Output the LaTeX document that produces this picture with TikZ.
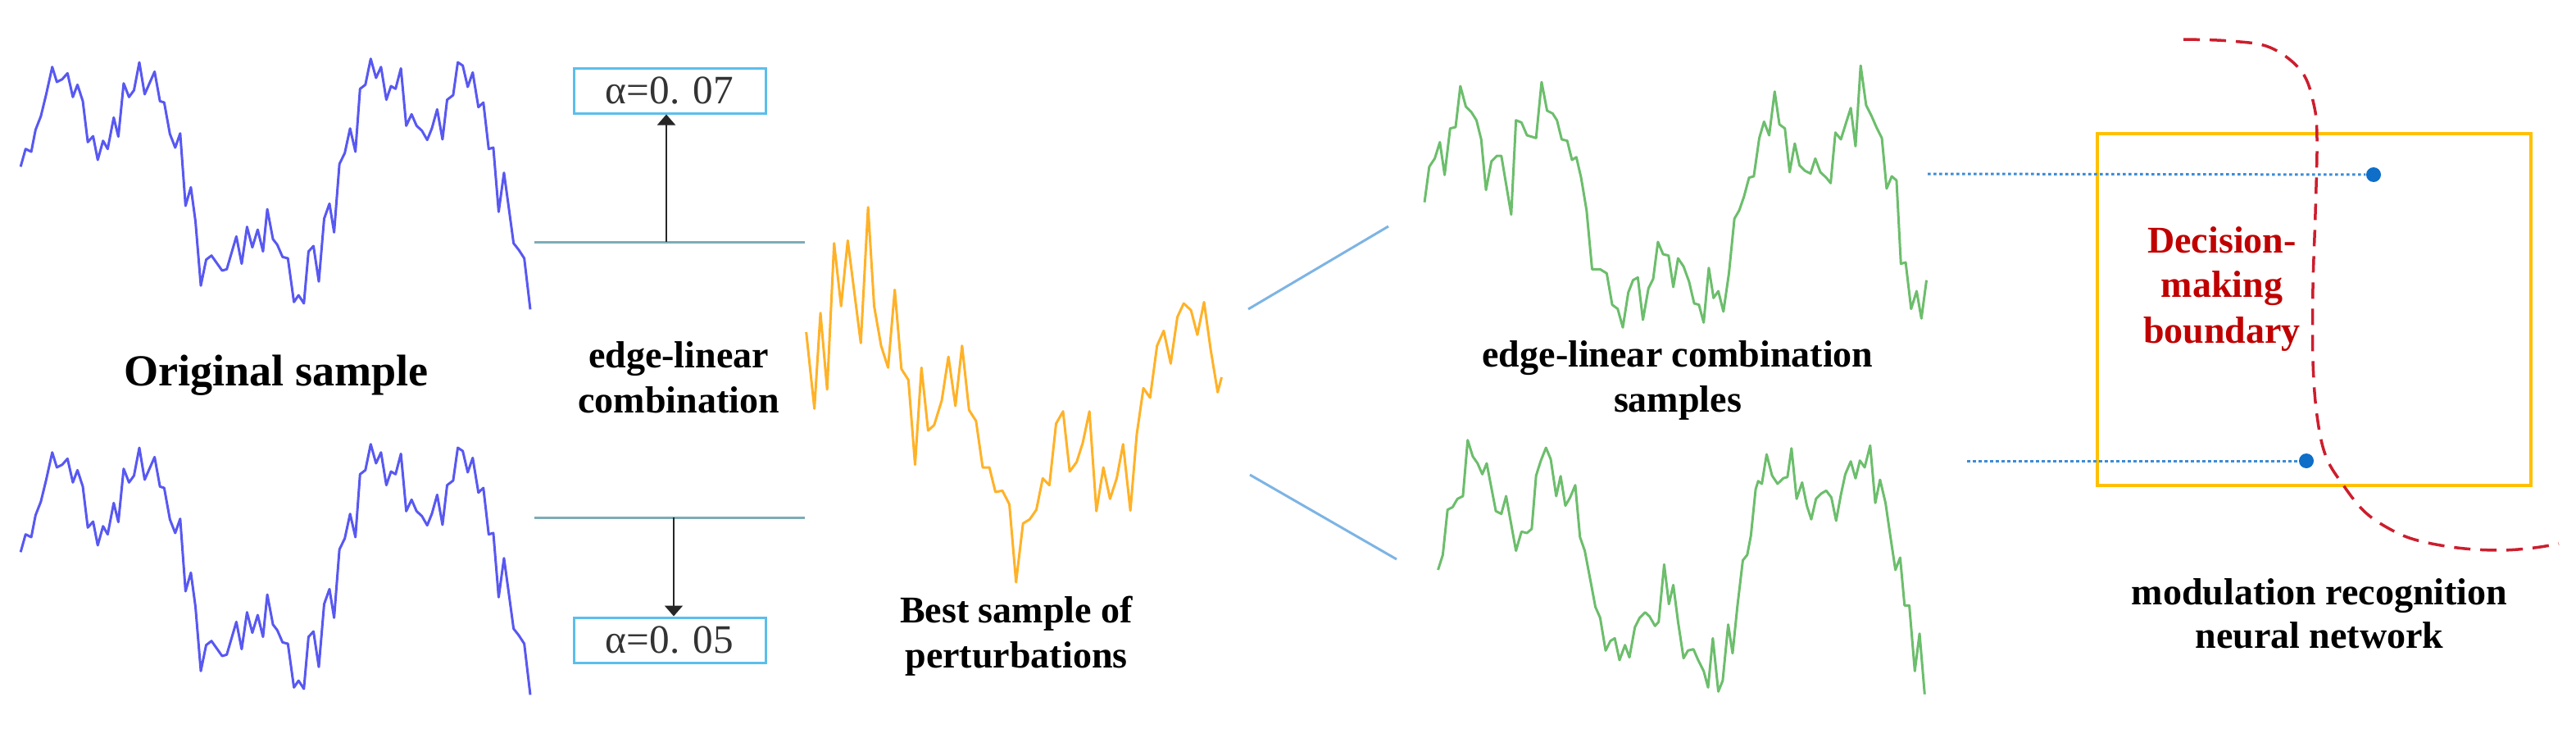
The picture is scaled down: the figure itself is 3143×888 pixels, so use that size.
\documentclass[tikz,border=0pt]{standalone}
\usepackage{fontspec}
\setmainfont{Liberation Serif}
\usetikzlibrary{arrows.meta}
\definecolor{wblue}{RGB}{88,88,242}
\definecolor{worange}{RGB}{255,178,40}
\definecolor{wgreen}{RGB}{108,190,108}
\definecolor{tealline}{RGB}{125,172,182}
\definecolor{boxblue}{RGB}{92,190,235}
\definecolor{lineblue}{RGB}{125,180,228}
\definecolor{dotblue}{RGB}{14,110,200}
\definecolor{dotline}{RGB}{60,140,215}
\definecolor{boxyellow}{RGB}{255,192,0}
\definecolor{dred}{RGB}{204,30,45}
\definecolor{tred}{RGB}{192,0,0}
\newcommand{\BlueWave}{\draw[wave,wblue] plot coordinates {(58,490) (72,425) (88,435) (100,355) (115,305) (130,225) (147,125) (160,180) (175,170) (190,148) (205,235) (218,190) (233,250) (247,400) (262,378) (275,465) (290,395) (303,425) (320,310) (333,380) (348,185) (363,235) (377,210) (392,108) (407,225) (435,142) (450,250) (462,255) (478,370) (493,420) (507,368) (522,633) (537,565) (550,690) (565,925) (580,830) (595,815) (625,870) (638,865) (665,745) (680,845) (695,710) (710,785) (725,720) (740,800) (752,645) (768,755) (780,775) (795,820) (810,825) (827,985) (840,960) (855,990) (868,800) (882,780) (897,910) (912,680) (927,625) (940,730) (955,480) (970,440) (985,350) (1000,435) (1013,205) (1028,190) (1043,95) (1058,165) (1072,125) (1087,245) (1100,195) (1113,205) (1128,130) (1143,340) (1158,298) (1172,340) (1187,358) (1202,392) (1215,350) (1230,280) (1245,390) (1258,245) (1275,228) (1288,108) (1302,120) (1316,198) (1330,145) (1346,272) (1360,255) (1375,425) (1388,420) (1403,655) (1418,512) (1432,645) (1445,770) (1460,795) (1475,825) (1492,1012)};}
\begin{document}
\begin{tikzpicture}[x=0.1mm,y=-0.1mm,
  wave/.style={line width=0.3mm,line join=round},
  lbl/.style={font=\fontsize{13.1pt}{15.7pt}\selectfont\bfseries,anchor=base,inner sep=0pt},
  biglbl/.style={font=\fontsize{15.4pt}{18pt}\selectfont\bfseries,anchor=base,inner sep=0pt},
  alphabox/.style={draw=boxblue,line width=0.3mm,minimum width=23.4mm,minimum height=5.5mm,inner sep=0pt,font=\fontsize{14pt}{16pt}\selectfont,text=black!80},
  tealbar/.style={draw=tealline,line width=0.3mm},
  arr/.style={draw=black!85,line width=0.2mm,-{Triangle[width=2.2mm,length=1.3mm]}},
  conn/.style={draw=lineblue,line width=0.3mm},
  dotl/.style={draw=dotline,line width=0.3mm,dash pattern=on 0.35mm off 0.35mm},
  bdot/.style={circle,fill=dotblue,minimum size=1.8mm,inner sep=0pt}]
\useasboundingbox (0,0) rectangle (3143,888);

% original samples
\begin{scope}[shift={(0,40)},xscale=0.43365,yscale=0.33333]
\BlueWave
\end{scope}
\begin{scope}[shift={(0,510)},xscale=0.43365,yscale=0.33333]
\BlueWave
\end{scope}
\node[biglbl] (orig) at (337,470) {Original sample};

% edge-linear combination
\coordinate (t1l) at (652,295); \coordinate (t1r) at (982,295);
\coordinate (t2l) at (652,631); \coordinate (t2r) at (982,631);
\draw[tealbar] (t1l) -- (t1r);
\draw[tealbar] (t2l) -- (t2r);
\node[alphabox] (a1) at (817,110.5) {α=0. 07};
\node[alphabox] (a2) at (817,780.5) {α=0. 05};
\coordinate (t1m) at (813,295);
\coordinate (t2m) at (822,631);
\draw[arr] (t1m) -- (t1m |- a1.south);
\draw[arr] (t2m) -- (t2m |- a2.north);
\node[lbl] (elc1) at (828,448) {edge-linear};
\node[lbl] (elc2) at (828,503) {combination};

% best sample
\begin{scope}[shift={(940,240)},xscale=0.36996,yscale=0.33333]
\draw[wave,worange] plot coordinates {(118,495) (145,775) (165,425) (187,705) (210,170) (233,400) (255,160) (298,535) (322,38) (342,400) (365,545) (388,625) (410,340) (432,630) (455,670) (477,980) (498,625) (520,855) (540,835) (565,745) (587,585) (610,765) (632,545) (655,780) (678,820) (700,990) (722,990) (742,1080) (765,1075) (788,1125) (810,1410) (833,1195) (855,1180) (877,1145) (898,1030) (920,1055) (942,830) (965,785) (987,1005) (1010,970) (1030,900) (1052,785) (1075,1150) (1098,990) (1120,1105) (1142,1030) (1163,905) (1187,1148) (1208,870) (1230,700) (1252,735) (1275,545) (1297,490) (1320,610) (1342,440) (1363,390) (1387,415) (1408,505) (1430,385) (1452,560) (1475,715) (1488,660)};
\end{scope}
\node[lbl] (best1) at (1240,759) {Best sample of};
\node[lbl] (best2) at (1240,814) {perturbations};

% connectors to combination samples
\coordinate (c1a) at (1523,377); \coordinate (c1b) at (1694,276);
\coordinate (c2a) at (1525,579); \coordinate (c2b) at (1704,682);
\draw[conn] (c1a) -- (c1b);
\draw[conn] (c2a) -- (c2b);

% combination samples
\begin{scope}[shift={(1680,40)},xscale=0.44643,yscale=0.33333]
\draw[wave,wgreen] plot coordinates {(130,620) (143,490) (158,460) (172,400) (185,520) (200,350) (215,345) (228,195) (243,270) (258,290) (272,320) (285,390) (298,575) (313,470) (328,450) (340,450) (367,665) (380,320) (395,328) (410,375) (435,385) (450,180) (465,285) (480,295) (492,320) (505,390) (520,395) (533,465) (545,455) (558,530) (573,650) (588,865) (610,865) (628,880) (643,995) (658,1010) (672,1078) (687,950) (700,905) (713,895) (727,1050) (742,935) (755,900) (768,765) (782,810) (797,815) (810,930) (823,825) (838,855) (853,910) (867,990) (880,995) (893,1060) (907,860) (920,970) (933,945) (947,1020) (962,880) (977,680) (990,650) (1003,600) (1017,530) (1030,525) (1045,385) (1058,325) (1072,375) (1087,215) (1100,335) (1115,350) (1128,510) (1142,405) (1155,485) (1170,505) (1185,515) (1198,460) (1212,510) (1228,530) (1240,550) (1253,365) (1268,390) (1282,330) (1295,275) (1308,415) (1322,120) (1337,265) (1352,305) (1365,345) (1380,385) (1393,570) (1407,525) (1420,540) (1432,845) (1445,840) (1460,1010) (1475,945) (1488,1045) (1502,905)};
\end{scope}
\begin{scope}[shift={(1680,480)},xscale=0.44643,yscale=0.33333]
\draw[wave,wgreen] plot coordinates {(167,645) (180,590) (193,425) (207,415) (220,385) (235,375) (248,170) (262,230) (275,255) (288,295) (300,255) (325,430) (340,440) (353,375) (380,575) (395,505) (410,510) (423,495) (435,300) (448,245) (462,198) (475,240) (490,375) (502,302) (515,410) (528,380) (542,335) (555,525) (568,575) (583,680) (597,780) (610,820) (625,940) (638,905) (650,895) (663,975) (678,920) (690,965) (705,855) (718,820) (733,800) (745,815) (760,850) (770,835) (785,625) (798,770) (810,700) (823,835) (838,968) (850,940) (865,935) (878,975) (893,1015) (905,1075) (918,895) (933,1090) (945,1050) (960,845) (972,950) (985,780) (1000,610) (1012,590) (1022,520) (1035,350) (1042,320) (1052,330) (1065,222) (1080,300) (1095,330) (1110,310) (1122,305) (1133,200) (1147,385) (1162,325) (1175,410) (1187,460) (1200,385) (1215,365) (1228,355) (1242,380) (1255,465) (1268,370) (1280,295) (1295,248) (1308,310) (1320,245) (1333,270) (1348,190) (1362,400) (1375,315) (1390,400) (1403,520) (1417,645) (1430,600) (1442,775) (1455,775) (1470,1015) (1483,878) (1497,1100)};
\end{scope}
\node[lbl] (els1) at (2047,447) {edge-linear combination};
\node[lbl] (els2) at (2047,502) {samples};

% neural network decision region
\node[draw=boxyellow,line width=0.45mm,minimum width=52.9mm,minimum height=42.9mm,inner sep=0pt,outer sep=0pt] (nn) at (2823.5,377.5) {};
\draw[dred,line width=0.35mm,dash pattern=on 2mm off 1.2mm] plot[smooth,tension=0.6] coordinates {(2664,48) (2721,50) (2770,58) (2808,87) (2823,127) (2827,170) (2825,260) (2822,350) (2822,440) (2827,507) (2838,557) (2860,593) (2884,623) (2912,643) (2946,658) (2998,668) (3050,671) (3092,668) (3122,663)};
\node[bdot] (d1) at (2896,213) {};
\node[bdot] (d2) at (2814,562) {};
\coordinate (s1) at (2352,212);
\coordinate (s2) at (2400,562);
\draw[dotl] (s1) -- (d1);
\draw[dotl] (s2) -- (d2);
\node[lbl,text=tred] (dmb1) at (2711,308) {Decision-};
\node[lbl,text=tred] (dmb2) at (2711,362) {making};
\node[lbl,text=tred] (dmb3) at (2711,418) {boundary};
\node[lbl] (mrn1) at (2830,737) {modulation recognition};
\node[lbl] (mrn2) at (2830,790) {neural network};
\end{tikzpicture}
\end{document}
